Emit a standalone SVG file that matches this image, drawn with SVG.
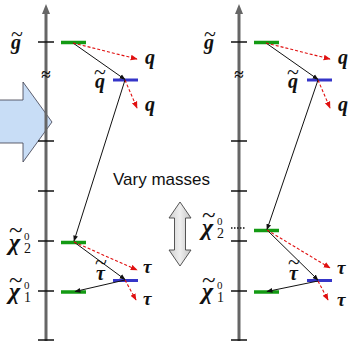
<svg xmlns="http://www.w3.org/2000/svg" width="348" height="344" viewBox="0 0 348 344">
<style>
.axis{stroke:#666;stroke-width:3;fill:none}
.tick{stroke:#111;stroke-width:1.5}
.green{stroke:#139a13;stroke-width:3.5}
.blue{stroke:#3535c8;stroke-width:3}
.blk{stroke:#111;stroke-width:1;fill:none;marker-end:url(#ab)}
.red{stroke:#e01010;stroke-width:1.1;stroke-dasharray:3 2;fill:none;marker-end:url(#ar)}
text{font-family:"Liberation Serif","Times New Roman",serif;fill:#111}
.lbl{font-style:italic;font-weight:bold}
.t{font-style:normal;font-weight:normal;font-size:22px}
.tc{font-style:normal;font-weight:normal;font-size:25px}
.sp{font-style:normal;font-weight:normal;font-size:11px}
.sb{font-style:normal;font-weight:normal;font-size:14px}
.txt{font-family:"Liberation Sans",Arial,sans-serif;font-size:17px;fill:#111}
</style>
<defs>
<marker id="ab" viewBox="0 0 10 10" refX="9" refY="5" markerWidth="6" markerHeight="6" markerUnits="userSpaceOnUse" orient="auto"><path d="M0,1 L10,5 L0,9 Z" fill="#111"/></marker>
<marker id="ar" viewBox="0 0 10 10" refX="9" refY="5" markerWidth="7" markerHeight="7" markerUnits="userSpaceOnUse" orient="auto"><path d="M0,1 L10,5 L0,9 Z" fill="#e01010"/></marker>
<linearGradient id="gg" x1="0" y1="0" x2="1" y2="0"><stop offset="0" stop-color="#cfcfcf"/><stop offset="0.5" stop-color="#efefef"/><stop offset="1" stop-color="#c4c4c4"/></linearGradient>
</defs>

<g id="big-arrow">
<polygon points="-2,100 23,100 23,82 52,122 23,162 23,143 -2,143" fill="#c8ddf6" stroke="#3a3a4a" stroke-width="0.8"/>
</g>

<g id="axis-left">
<line class="axis" x1="46" y1="341" x2="46" y2="12"/>
<polygon points="46,4 42,14 50,14" fill="#666"/>
<line class="tick" x1="38" y1="42" x2="54" y2="42"/>
<line class="tick" x1="38" y1="141" x2="54" y2="141"/>
<line class="tick" x1="38" y1="191" x2="54" y2="191"/>
<line class="tick" x1="38" y1="241" x2="54" y2="241"/>
<line class="tick" x1="38" y1="291" x2="54" y2="291"/>
<line class="tick" x1="38" y1="340" x2="54" y2="340"/>
<text x="46" y="80" font-size="17" font-weight="bold" text-anchor="middle">≈</text>
</g>

<g id="axis-right">
<line class="axis" x1="239" y1="341" x2="239" y2="12"/>
<polygon points="239,4 235,14 243,14" fill="#666"/>
<line class="tick" x1="231" y1="42" x2="247" y2="42"/>
<line class="tick" x1="231" y1="141" x2="247" y2="141"/>
<line class="tick" x1="231" y1="191" x2="247" y2="191"/>
<line class="tick" x1="231" y1="241" x2="247" y2="241"/>
<line class="tick" x1="231" y1="291" x2="247" y2="291"/>
<line class="tick" x1="231" y1="340" x2="247" y2="340"/>
<text x="239" y="80" font-size="17" font-weight="bold" text-anchor="middle">≈</text>
</g>

<g id="gluino-left"><line class="green" x1="61" y1="42.5" x2="86" y2="42.5"/><text class="lbl" font-size="20"><tspan x="11" y="49">g</tspan><tspan class="t" x="11" y="41">~</tspan></text></g>
<g id="squark-left"><line class="blue" x1="113" y1="80" x2="138" y2="80"/><text class="lbl" font-size="20"><tspan x="95" y="88">q</tspan><tspan class="t" x="94" y="79">~</tspan></text></g>
<g id="chi2-left"><line class="green" x1="61" y1="242.5" x2="86" y2="242.5" stroke-width="5"/><text class="lbl" font-size="24"><tspan x="9" y="250">χ</tspan><tspan class="tc" x="9" y="238">~</tspan><tspan class="sp" x="24" y="240">0</tspan><tspan class="sb" x="24" y="253">2</tspan></text></g>
<g id="stau-left"><line class="blue" x1="113" y1="280.5" x2="138" y2="280.5"/><text class="lbl" font-size="20"><tspan x="96" y="280">τ</tspan><tspan class="t" x="95" y="269">~</tspan></text></g>
<g id="chi1-left"><line class="green" x1="61" y1="292" x2="86" y2="292" stroke-width="3"/><text class="lbl" font-size="24"><tspan x="9" y="299">χ</tspan><tspan class="tc" x="9" y="288">~</tspan><tspan class="sp" x="24" y="289">0</tspan><tspan class="sb" x="24" y="302">1</tspan></text></g>
<g id="q-left"><text class="lbl" x="145" y="64" font-size="20">q</text><text class="lbl" x="145" y="111" font-size="20">q</text></g>
<g id="tau-left"><text class="lbl" x="143" y="273" font-size="19">τ</text><text class="lbl" x="143" y="305" font-size="19">τ</text></g>

<g id="gluino-right"><line class="green" x1="254" y1="42.5" x2="279" y2="42.5"/><text class="lbl" font-size="20"><tspan x="204" y="49">g</tspan><tspan class="t" x="204" y="41">~</tspan></text></g>
<g id="squark-right"><line class="blue" x1="307" y1="80" x2="332" y2="80"/><text class="lbl" font-size="20"><tspan x="288" y="88">q</tspan><tspan class="t" x="287" y="79">~</tspan></text></g>
<g id="chi2-right"><line class="green" x1="254" y1="230.5" x2="279" y2="230.5" stroke-width="5"/><text class="lbl" font-size="24"><tspan x="202" y="235">χ</tspan><tspan class="tc" x="202" y="223">~</tspan><tspan class="sp" x="217" y="225">0</tspan><tspan class="sb" x="217" y="238">2</tspan></text><line x1="231" y1="228" x2="246" y2="228" stroke="#111" stroke-width="1.5" stroke-dasharray="1.5 1.5"/></g>
<g id="stau-right"><line class="blue" x1="307" y1="280.5" x2="332" y2="280.5"/><text class="lbl" font-size="20"><tspan x="289" y="280">τ</tspan><tspan class="t" x="288" y="269">~</tspan></text></g>
<g id="chi1-right"><line class="green" x1="254" y1="292" x2="279" y2="292" stroke-width="3"/><text class="lbl" font-size="24"><tspan x="202" y="299">χ</tspan><tspan class="tc" x="202" y="288">~</tspan><tspan class="sp" x="217" y="289">0</tspan><tspan class="sb" x="217" y="302">1</tspan></text></g>
<g id="q-right"><text class="lbl" x="338" y="64" font-size="20">q</text><text class="lbl" x="338" y="111" font-size="20">q</text></g>
<g id="tau-right"><text class="lbl" x="337" y="274" font-size="19">τ</text><text class="lbl" x="337" y="306" font-size="19">τ</text></g>

<g id="vary">
<text class="txt" x="113" y="185">Vary masses</text>
<polygon points="180,202 191,218 185.5,218 185.5,250 191,250 180,266 169,250 174.5,250 174.5,218 169,218" fill="url(#gg)" stroke="#444" stroke-width="0.9"/>
</g>

<g id="connectors">
<line class="blk" x1="73" y1="43" x2="125" y2="79.5"/>
<line class="red" x1="73" y1="43" x2="137" y2="59"/>
<line class="red" x1="125" y1="80" x2="137" y2="108"/>
<line class="blk" x1="125" y1="80" x2="74" y2="241"/>
<line class="blk" x1="74" y1="242" x2="125" y2="279.5"/>
<line class="red" x1="74" y1="242" x2="137" y2="270"/>
<line class="red" x1="125" y1="280" x2="136" y2="300"/>
<line class="blk" x1="125" y1="280" x2="75" y2="291.5"/>

<line class="blk" x1="266" y1="43" x2="318" y2="79.5"/>
<line class="red" x1="266" y1="43" x2="330" y2="59"/>
<line class="red" x1="318" y1="80" x2="330" y2="108"/>
<line class="blk" x1="318" y1="80" x2="267" y2="229.5"/>
<line class="blk" x1="267" y1="230" x2="318" y2="280"/>
<line class="red" x1="267" y1="230" x2="330" y2="268"/>
<line class="red" x1="318" y1="281" x2="328" y2="300"/>
<line class="blk" x1="318" y1="281" x2="267" y2="291.5"/>
</g>
</svg>
